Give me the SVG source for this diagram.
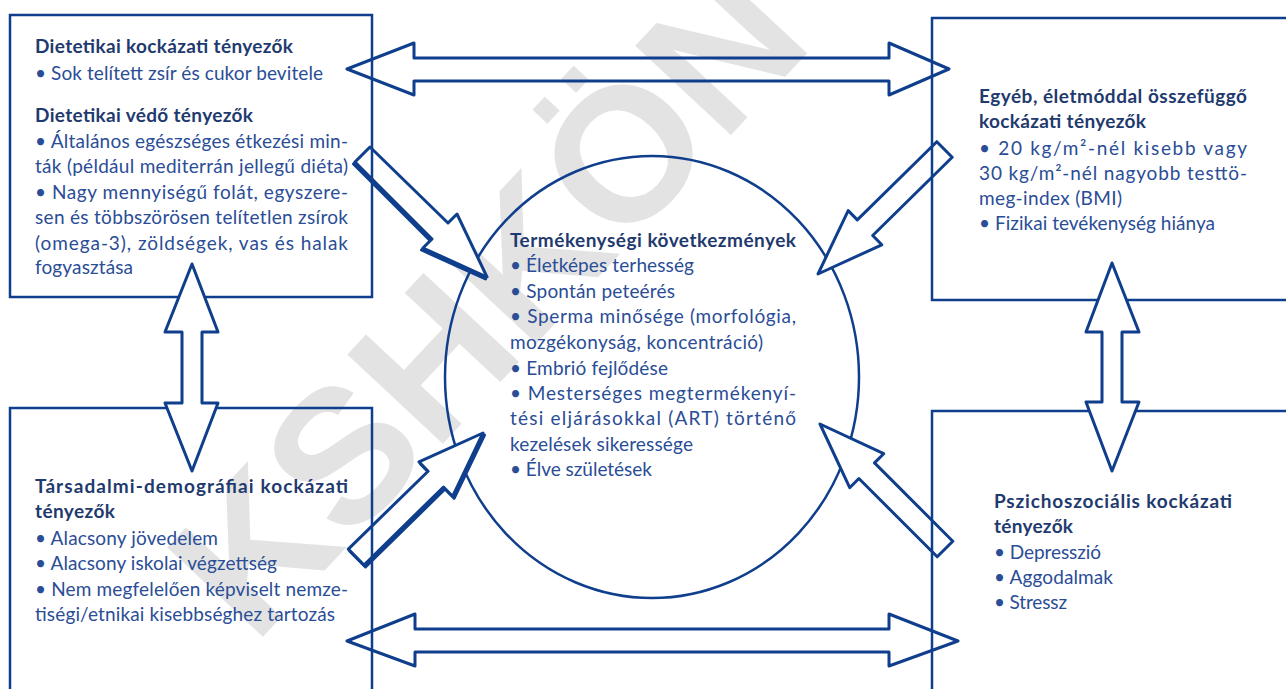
<svg xmlns="http://www.w3.org/2000/svg" width="1286" height="689" viewBox="0 0 1286 689">
<style>
.wm{font-family:"Liberation Sans",Arial,sans-serif;font-weight:bold;font-size:190px;fill:#e3e3e3}
.box{fill:none;stroke:#0f3f8c;stroke-width:2.5}
.arr{fill:#fff;stroke:#0f3f8c;stroke-width:3;stroke-linejoin:round}
.shd{fill:#0f3f8c;stroke:#0f3f8c;stroke-width:3;stroke-linejoin:round}
.arrn{fill:none;stroke:#0f3f8c;stroke-width:3;stroke-linejoin:round}
.h{font-family:Lato,"Open Sans",sans-serif;font-weight:bold;font-size:19px;fill:#1f3a6e}
.t{font-family:Lato,"Open Sans",sans-serif;font-size:19px;fill:#2a4d96}
</style>
<rect width="1286" height="689" fill="#fff"/>
<text class="wm" text-anchor="middle" transform="translate(535,345) rotate(-47)">KSHKÖN</text>
<g id="circle">
<ellipse cx="652" cy="377" rx="207" ry="221" class="box"/>
</g>
<g id="connectors">
<path class="shd" transform="translate(-1.5,2)" d="M370,147 L448,223 L457,214 L487,277 L423,248 L432,239 L355,162 Z"/>
<path class="arr" d="M370,147 L448,223 L457,214 L487,277 L423,248 L432,239 L355,162 Z"/>
<path class="shd" transform="translate(1.5,2)" d="M364,565 L443.5,487 L452.6,496.3 L483,433 L419,461.9 L428.1,471.2 L348.3,549.1 Z"/>
<path class="arr" d="M364,565 L443.5,487 L452.6,496.3 L483,433 L419,461.9 L428.1,471.2 L348.3,549.1 Z"/>
<path class="arr" d="M952.2,157.3 L872.7,235.5 L881.8,244.8 L818,274 L848.2,210.6 L857.3,219.9 L936.8,141.7 Z"/>
<path class="arr" d="M952.8,541.2 L874.5,462.9 L883.7,453.7 L820,424 L849.7,487.7 L858.9,478.5 L937.2,556.8 Z"/>
</g>
<g id="box-diet">
<rect x="10" y="15" width="362" height="282" class="box"/>
<text class="h" x="35" y="53" textLength="258" lengthAdjust="spacing">Dietetikai kockázati tényezők</text>
<text class="t" x="35" y="80" textLength="288" lengthAdjust="spacing">• Sok telített zsír és cukor bevitele</text>
<text class="h" x="35" y="122" textLength="218" lengthAdjust="spacing">Dietetikai védő tényezők</text>
<text class="t" x="35" y="148" textLength="313" lengthAdjust="spacing">• Általános egészséges étkezési min-</text>
<text class="t" x="35" y="173" textLength="313" lengthAdjust="spacing">ták (például mediterrán jellegű diéta)</text>
<text class="t" x="35" y="199" textLength="313" lengthAdjust="spacing">• Nagy mennyiségű folát, egyszere-</text>
<text class="t" x="35" y="224" textLength="313" lengthAdjust="spacing">sen és többszörösen telítetlen zsírok</text>
<text class="t" x="35" y="250" textLength="313" lengthAdjust="spacing">(omega-3), zöldségek, vas és halak</text>
<text class="t" x="35" y="274" textLength="98" lengthAdjust="spacing">fogyasztása</text>
</g>
<g id="box-life">
<path class="box" d="M1290,18 H932 V300 H1290"/>
<text class="h" x="979" y="103" textLength="268" lengthAdjust="spacing">Egyéb, életmóddal összefüggő</text>
<text class="h" x="979" y="128" textLength="167" lengthAdjust="spacing">kockázati tényezők</text>
<text class="t" x="979" y="155" textLength="268" lengthAdjust="spacing">• 20 kg/m²-nél kisebb vagy</text>
<text class="t" x="979" y="180" textLength="268" lengthAdjust="spacing">30 kg/m²-nél nagyobb testtö-</text>
<text class="t" x="979" y="205" textLength="143" lengthAdjust="spacing">meg-index (BMI)</text>
<text class="t" x="979" y="230" textLength="236" lengthAdjust="spacing">• Fizikai tevékenység hiánya</text>
</g>
<g id="box-social">
<path class="box" d="M10,695 V408 H372 V695"/>
<text class="h" x="35" y="493" textLength="313" lengthAdjust="spacing">Társadalmi-demográfiai kockázati</text>
<text class="h" x="35" y="518" textLength="80" lengthAdjust="spacing">tényezők</text>
<text class="t" x="35" y="545" textLength="183" lengthAdjust="spacing">• Alacsony jövedelem</text>
<text class="t" x="35" y="570" textLength="242" lengthAdjust="spacing">• Alacsony iskolai végzettség</text>
<text class="t" x="35" y="596" textLength="313" lengthAdjust="spacing">• Nem megfelelően képviselt nemze-</text>
<text class="t" x="35" y="621" textLength="300" lengthAdjust="spacing">tiségi/etnikai kisebbséghez tartozás</text>
</g>
<g id="box-psycho">
<path class="box" d="M1290,411 H932 V695"/>
<text class="h" x="994" y="508" textLength="238" lengthAdjust="spacing">Pszichoszociális kockázati</text>
<text class="h" x="994" y="533" textLength="79" lengthAdjust="spacing">tényezők</text>
<text class="t" x="994" y="559" textLength="107" lengthAdjust="spacing">• Depresszió</text>
<text class="t" x="994" y="584" textLength="119" lengthAdjust="spacing">• Aggodalmak</text>
<text class="t" x="994" y="609" textLength="73" lengthAdjust="spacing">• Stressz</text>
</g>
<g id="center-text">
<text class="h" x="510" y="247" textLength="286" lengthAdjust="spacing">Termékenységi következmények</text>
<text class="t" x="510" y="272" textLength="184" lengthAdjust="spacing">• Életképes terhesség</text>
<text class="t" x="510" y="298" textLength="165" lengthAdjust="spacing">• Spontán peteérés</text>
<text class="t" x="510" y="323" textLength="286" lengthAdjust="spacing">• Sperma minősége (morfológia,</text>
<text class="t" x="510" y="349" textLength="253" lengthAdjust="spacing">mozgékonyság, koncentráció)</text>
<text class="t" x="510" y="375" textLength="158" lengthAdjust="spacing">• Embrió fejlődése</text>
<text class="t" x="510" y="400" textLength="286" lengthAdjust="spacing">• Mesterséges megtermékenyí-</text>
<text class="t" x="510" y="425" textLength="286" lengthAdjust="spacing">tési eljárásokkal (ART) történő</text>
<text class="t" x="510" y="451" textLength="183" lengthAdjust="spacing">kezelések sikeressége</text>
<text class="t" x="510" y="476" textLength="142" lengthAdjust="spacing">• Élve születések</text>
</g>
<g id="connectors-2">
<path class="arrn" d="M347,69 L414,43 L414,58 L889,58 L889,43 L949,69 L889,95 L889,81 L414,81 L414,95 Z"/>
<path class="arrn" d="M347,641 L415,614 L415,629 L889,629 L889,614 L958,641 L889,666 L889,652 L415,652 L415,666 Z"/>
<path class="arr" d="M192,264 L218,332 L202,332 L202,403 L218,403 L192,471 L165,403 L182,403 L182,332 L165,332 Z"/>
<path class="arr" d="M1112,263 L1139,332 L1122,332 L1122,402 L1139,402 L1112,471 L1086,402 L1102,402 L1102,332 L1086,332 Z"/>
</g>
</svg>
